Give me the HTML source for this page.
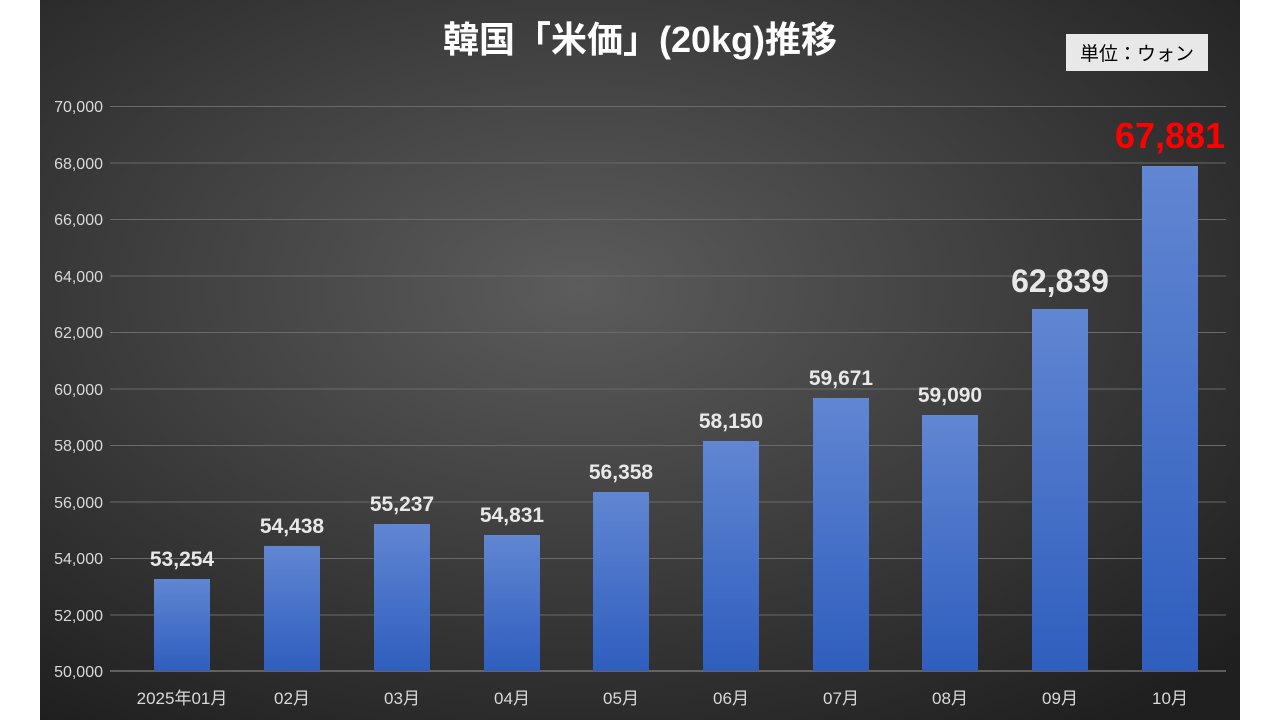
<!DOCTYPE html>
<html><head><meta charset="utf-8"><style>
body{margin:0;width:1280px;height:720px;background:#fff;overflow:hidden}
</style></head><body>
<svg width="1280" height="720" xmlns="http://www.w3.org/2000/svg" font-family="Liberation Sans, Noto Sans CJK JP, sans-serif">
<defs>
<radialGradient id="bg" cx="0.45" cy="0.4" r="0.75">
<stop offset="0" stop-color="#5c5c5c"/><stop offset="1" stop-color="#1f1f1f"/>
</radialGradient>
<linearGradient id="bar" x1="0" y1="0" x2="0" y2="1">
<stop offset="0" stop-color="#6186d2"/><stop offset="1" stop-color="#2f5ebe"/>
</linearGradient>
</defs>
<rect x="40" y="0" width="1200" height="720" fill="url(#bg)"/>
<g stroke="#6a6a6a" stroke-width="1">
<line x1="110" x2="1226" y1="106.5" y2="106.5"/><line x1="110" x2="1226" y1="163" y2="163"/>
<line x1="110" x2="1226" y1="219.5" y2="219.5"/><line x1="110" x2="1226" y1="276" y2="276"/>
<line x1="110" x2="1226" y1="332.5" y2="332.5"/><line x1="110" x2="1226" y1="389" y2="389"/>
<line x1="110" x2="1226" y1="445.5" y2="445.5"/><line x1="110" x2="1226" y1="502" y2="502"/>
<line x1="110" x2="1226" y1="558.5" y2="558.5"/><line x1="110" x2="1226" y1="615" y2="615"/>
</g>
<line x1="110" x2="1226" y1="671" y2="671" stroke="#999"/>
<g fill="#d9d9d9" font-size="16" text-anchor="end">
<text x="103" y="112">70,000</text><text x="103" y="169">68,000</text><text x="103" y="225">66,000</text>
<text x="103" y="282">64,000</text><text x="103" y="338">62,000</text><text x="103" y="395">60,000</text>
<text x="103" y="451">58,000</text><text x="103" y="508">56,000</text><text x="103" y="564">54,000</text>
<text x="103" y="621">52,000</text><text x="103" y="677">50,000</text>
</g>
<g fill="url(#bar)">
<rect x="154" y="579" width="56" height="92"/>
<rect x="264" y="546" width="56" height="125"/>
<rect x="374" y="524" width="56" height="147"/>
<rect x="484" y="535" width="56" height="136"/>
<rect x="593" y="492" width="56" height="179"/>
<rect x="703" y="441" width="56" height="230"/>
<rect x="813" y="398" width="56" height="273"/>
<rect x="922" y="415" width="56" height="256"/>
<rect x="1032" y="309" width="56" height="362"/>
<rect x="1142" y="166" width="56" height="505"/>
</g>
<g fill="#e8e8e8" font-size="21" font-weight="bold" text-anchor="middle">
<text x="182" y="566">53,254</text><text x="292" y="533">54,438</text><text x="402" y="511">55,237</text>
<text x="512" y="522">54,831</text><text x="621" y="479">56,358</text><text x="731" y="428">58,150</text>
<text x="841" y="385">59,671</text><text x="950" y="402">59,090</text>
<text x="1060" y="292" font-size="32">62,839</text>
<text x="1170" y="148" font-size="36" fill="#ff0000">67,881</text>
</g>
<g fill="#d9d9d9" font-size="17" text-anchor="middle">
<text x="182" y="704">2025年01月</text><text x="292" y="704">02月</text><text x="402" y="704">03月</text>
<text x="512" y="704">04月</text><text x="621" y="704">05月</text><text x="731" y="704">06月</text>
<text x="841" y="704">07月</text><text x="950" y="704">08月</text><text x="1060" y="704">09月</text>
<text x="1170" y="704">10月</text>
</g>
<text x="640" y="52" fill="#fff" font-size="36" font-weight="bold" text-anchor="middle">韓国「米価」(20kg)推移</text>
<rect x="1066" y="34" width="142" height="37" fill="#e8e8e8"/>
<text x="1137" y="60" fill="#000" font-size="19" text-anchor="middle">単位：ウォン</text>
</svg>
</body></html>
